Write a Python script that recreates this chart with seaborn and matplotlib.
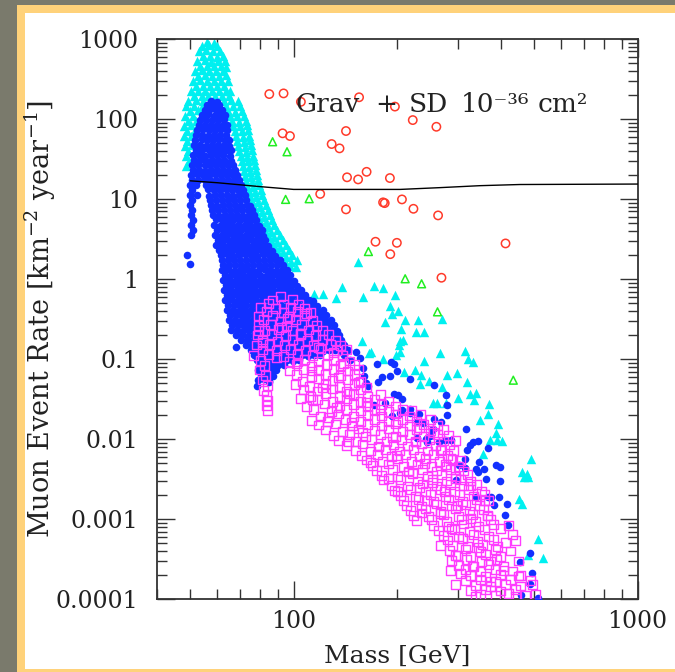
import numpy as np
import matplotlib
matplotlib.use("Agg")
import matplotlib.pyplot as plt
import seaborn as sns
from matplotlib.patches import Rectangle
from matplotlib.ticker import FixedLocator, FixedFormatter, LogLocator, NullFormatter

# ---------------------------------------------------------------- axis text
x_ticks = [100, 1000]
x_tick_labels = ["100", "1000"]
y_ticks = [1e-4, 1e-3, 1e-2, 1e-1, 1, 10, 100, 1000]
y_tick_labels = ["0.0001", "0.001", "0.01", "0.1", "1", "10", "100", "1000"]
x_label = "Mass [GeV]"
y_label = r"Muon Event Rate [km$^{-2}$ year$^{-1}$]"
# annotation words and the mass at which each word starts
note_words = ["Grav", "+", "SD", "10⁻³⁶", "cm²"]
note_word_mass = [101.0, 172.7, 215.5, 305.2, 511.0]
note_rate = 122

# ---------------------------------------------------------- detector limit
limit_mass = [50.1, 60.0, 80.0, 100.0, 204.0, 267.0, 348.0, 455.0, 1000.0]
limit_rate = [16.9, 16.0, 14.3, 13.2, 13.2, 13.9, 14.7, 15.2, 15.4]

# ------------------------------------------- model scans: (mass GeV, rate)
cyan_points = [
    (56.1,920),(58.8,900),(54.0,820),(56.9,830),(60.0,810),
    (53.2,710),(55.8,720),(58.5,700),(61.2,710),(54.7,610),(57.3,620),(60.0,600),(62.4,610),
    (52.5,530),(55.1,540),(57.7,520),(60.4,530),(63.3,525),(53.6,460),(56.1,465),(58.8,455),(61.6,460),(63.7,450),
    (51.8,400),(54.3,405),(56.9,395),(59.6,400),(62.4,395),(52.8,345),(55.4,350),(58.1,340),(60.8,345),(63.7,350),
    (51.1,300),(53.6,305),(56.1,295),(58.8,300),(61.6,298),(64.6,300),(52.1,260),(54.7,262),(57.3,258),(60.0,260),(62.9,262),
    (50.4,224),(52.8,226),(55.4,222),(58.1,225),(60.8,224),(63.7,222),(65.4,226),
    (51.5,194),(54.0,196),(56.5,192),(59.2,195),(62.0,194),(65.0,192),
    (49.4,170),(52.1,172),(54.7,168),(62.9,170),(65.9,172),(69.1,168),
    (48.7,145),(51.5,147),(54.0,143),(63.7,145),(66.8,147),(70.0,144),
    (50.1,126),(52.8,128),(64.6,126),(67.7,124),(70.9,127),(48.4,109),(51.1,110),(65.4,109),(68.6,108),(71.9,110),
    (49.4,94),(52.1,95),(66.3,94),(69.5,93),(72.9,95),(48.1,82),(50.4,83),(66.8,82),(70.0,81),(73.4,83),
    (49.1,71),(51.8,72),(67.7,71),(70.9,70),(73.9,72),(48.1,61),(50.4,62),(68.1,61),(71.4,60),(74.3,62),
    (49.1,53),(68.6,53),(71.9,52),(74.8,54),(48.4,46),(50.8,47),(69.1,46),(72.4,45),(75.3,47),
    (49.4,40),(69.5,40),(72.9,39),(75.8,41),(48.7,34.5),(70.5,34.5),(73.4,34),(76.3,35),
    (49.7,30),(70.9,30),(73.9,29.5),(76.9,30.5),(48.7,26),(71.4,26),(74.3,25.5),(77.4,26.5),
    (71.9,22.5),(74.8,22),(77.9,23),(72.4,19.5),(75.3,19),(78.4,20),(72.9,16.8),(75.8,16.5),(79.0,17.2),
    (73.4,14.6),(76.3,14.3),(79.5,14.9),(74.3,12.6),(77.4,12.3),(80.5,12.9),(74.8,10.9),(77.9,10.7),(81.1,11.1),
    (75.8,9.4),(79.0,9.2),(82.2,9.6),(76.9,8.2),(80.0,8.0),(83.3,8.4),(77.9,7.1),(81.1,6.9),(84.4,7.3),
    (79.0,6.1),(82.2,6.0),(85.6,6.3),(80.0,5.3),(83.3,5.2),(86.7,5.4),(81.1,4.6),(84.4,4.5),(87.9,4.7),
    (82.7,4.0),(86.2,3.9),(89.7,4.1),(84.4,3.45),(87.9,3.35),(91.5,3.55),(86.2,3.0),(89.7,2.9),(93.3,3.1),
    (87.9,2.6),(91.5,2.5),(95.2,2.7),(89.7,2.24),(93.3,2.18),(97.1,2.3),(91.5,1.94),(95.2,1.9),(99.1,2.0),
    (94.6,1.68),(98.5,1.64),(102.5,1.72),(97.8,1.46),(101.8,1.42),
    (114.8,0.65),(121.7,0.65),(137.9,0.79),(133.1,0.58),(118.1,0.43),(153.4,1.62),(170.8,0.82),(181.8,0.77),
    (159.0,0.60),(196.6,0.64),(190.1,0.46),(192.7,0.365),(201.5,0.40),(184.5,0.29),(211.2,0.31),(229.3,0.31),
    (205.6,0.237),(226.9,0.218),(239.8,0.216),(270.6,0.32),(157.6,0.17),(203.3,0.167),(207.9,0.173),(201.9,0.151),
    (203.3,0.123),(167.9,0.123),(165.6,0.118),(198.8,0.113),(265.7,0.12),(314.1,0.126),(320.5,0.1),(333.0,0.0925),
    (239.8,0.096),(181.8,0.1),(208.7,0.069),(224.8,0.074),(235.1,0.064),(299.2,0.067),(279.7,0.0625),(247.9,0.054),
    (233.5,0.049),(269.3,0.045),(319.9,0.052),(326.4,0.037),(338.2,0.038),(299.8,0.033),(335.2,0.031),(253.6,0.028),
    (261.1,0.028),(277.3,0.028),(370.7,0.0275),(366.5,0.0204),(349.0,0.0173),(393.7,0.0153),(388.5,0.012),
    (373.2,0.0099),(403.5,0.0094),(390.3,0.0099),(354.4,0.0066),(490.2,0.0056),(461.5,0.0039),(477.2,0.0037),
    (466.3,0.0034),(480.3,0.0034),(450.9,0.00178),(462.5,0.00157),(513.6,0.00056),(481.4,0.00036),(529.8,0.00033),
]

blue_points = [
    (57.7,170),(60.0,165),(56.1,150),(58.5,152),(60.8,148),(55.1,130),(57.3,132),(59.6,128),(62.0,130),
    (54.3,112),(56.5,114),(58.8,110),(61.2,112),(63.3,113),(53.6,97),(55.8,98),(58.1,96),(60.4,97),(62.9,99),
    (53.2,84),(55.4,85),(57.7,83),(60.0,84),(62.4,85),(64.2,84),(52.5,73),(54.7,74),(56.9,72),(59.2,73),(61.6,74),(64.2,72),
    (52.1,63),(54.3,64),(56.5,62),(58.8,63),(61.2,64),(63.7,63),
    (51.8,55),(54.0,56),(56.1,54),(58.5,55),(60.8,56),(63.3,55),(65.0,54),
    (51.5,47),(53.6,48),(55.8,46.5),(58.1,47),(60.4,48),(62.9,47),(65.0,46.5),
    (52.1,41),(54.3,41.5),(56.9,40.5),(59.2,41),(61.6,41.5),(64.2,41),(65.9,40.5),
    (51.1,35.5),(53.2,36),(55.4,35),(57.7,35.5),(60.0,36),(62.4,35.5),(65.4,35),
    (51.5,30.7),(53.6,31),(55.8,30.3),(58.1,30.7),(60.4,31),(62.9,30.7),(65.9,30.3),
    (50.8,26.6),(52.8,27),(55.1,26.3),(57.3,26.6),(59.6,27),(62.0,26.6),(64.6,26.3),(66.8,26.8),
    (51.1,23),(53.2,23.3),(55.4,22.7),(57.7,23),(60.0,23.3),(62.4,23),(65.0,22.7),(67.7,23.2),
    (50.4,20),(52.5,20.3),(54.7,19.7),(56.9,20),(59.2,20.3),(61.6,20),(64.2,19.7),(66.8,20.2),(68.6,19.8),
    (50.8,17.3),(52.8,17.5),(55.1,17.1),(57.3,17.3),(59.6,17.5),(62.0,17.3),(64.6,17.1),(67.2,17.4),(69.5,17.2),
    (50.1,15),(52.1,15.2),(55.8,14.8),(58.1,15),(60.4,15.2),(62.9,15),(65.4,14.8),(68.1,15.1),(70.5,14.9),
    (50.8,13),(56.5,13.2),(58.8,12.8),(61.2,13),(63.7,13.2),(66.3,13),(69.1,12.8),(71.4,13.1),
    (50.1,11.2),(52.5,11.4),(56.9,11),(59.2,11.2),(61.6,11.4),(64.2,11.2),(66.8,11),(69.5,11.3),(72.4,11.1),
    (50.8,9.7),(57.3,9.8),(59.6,9.6),(62.0,9.7),(64.6,9.8),(67.2,9.7),(70.0,9.6),(72.9,9.8),
    (50.1,8.4),(57.7,8.5),(60.0,8.3),(62.4,8.4),(65.0,8.5),(67.7,8.4),(70.5,8.3),(73.4,8.5),(74.8,8.3),
    (50.8,7.3),(58.1,7.4),(60.4,7.2),(62.9,7.3),(65.4,7.4),(68.1,7.3),(70.9,7.2),(73.9,7.4),(75.8,7.2),
    (50.4,6.3),(58.5,6.4),(60.8,6.2),(63.3,6.3),(65.9,6.4),(68.6,6.3),(71.4,6.2),(74.3,6.4),(76.9,6.3),
    (51.1,5.5),(59.6,5.6),(62.0,5.4),(64.6,5.5),(67.2,5.6),(70.0,5.5),(72.9,5.4),(75.8,5.6),(77.9,5.5),
    (50.4,4.7),(58.8,4.8),(61.2,4.65),(63.7,4.7),(66.3,4.8),(69.1,4.7),(71.9,4.65),(74.8,4.75),(77.9,4.7),(79.5,4.65),
    (51.1,4.1),(60.0,4.15),(62.4,4.05),(65.0,4.1),(67.7,4.15),(70.5,4.1),(73.4,4.05),(76.3,4.15),(79.5,4.1),(81.1,4.05),
    (50.4,3.55),(59.2,3.6),(61.6,3.5),(64.2,3.55),(66.8,3.6),(69.5,3.55),(72.4,3.5),(75.3,3.6),(78.4,3.55),(81.6,3.5),
    (60.4,3.07),(62.9,3.1),(65.4,3.03),(68.1,3.07),(70.9,3.1),(73.9,3.07),(76.9,3.03),(80.0,3.1),(82.7,3.05),
    (59.6,2.66),(62.0,2.7),(64.6,2.62),(67.2,2.66),(70.0,2.7),(72.9,2.66),(75.8,2.62),(79.0,2.7),(82.2,2.66),(84.4,2.62),
    (60.8,2.3),(63.3,2.33),(65.9,2.27),(68.6,2.3),(71.4,2.33),(74.3,2.3),(77.4,2.27),(80.5,2.33),(83.8,2.3),(86.7,2.27),
    (49.1,2.0),(61.6,2.0),(64.2,2.03),(66.8,1.97),(69.5,2.0),(72.4,2.03),(75.3,2.0),(78.4,1.97),(81.6,2.03),(85.0,2.0),(88.5,1.97),
    (62.0,1.73),(64.6,1.75),(67.2,1.71),(70.0,1.73),(72.9,1.75),(75.8,1.73),(79.0,1.71),(82.2,1.75),(85.6,1.73),(89.1,1.71),(91.5,1.74),
    (50.1,1.55),
    (62.4,1.5),(65.0,1.52),(67.7,1.48),(70.5,1.5),(73.4,1.52),(76.3,1.5),(79.5,1.48),(82.7,1.52),(86.2,1.5),(89.7,1.48),(93.3,1.51),
    (62.0,1.3),(64.6,1.32),(67.2,1.28),(70.0,1.3),(72.9,1.32),(75.8,1.3),(79.0,1.28),(82.2,1.32),(85.6,1.3),(89.1,1.28),(92.7,1.31),(95.9,1.29),
    (63.3,1.12),(65.9,1.14),(68.6,1.1),(71.4,1.12),(74.3,1.14),(77.4,1.12),(80.5,1.1),(83.8,1.14),(87.3,1.12),(90.9,1.1),(94.6,1.13),(97.8,1.11),
    (62.4,0.97),(65.0,0.98),(67.7,0.96),(70.5,0.97),(73.4,0.98),(76.3,0.97),(79.5,0.96),(82.7,0.98),(86.2,0.97),(89.7,0.96),(93.3,0.98),(97.1,0.97),(100.5,0.96),
    (63.7,0.84),(66.3,0.85),(69.1,0.83),(71.9,0.84),(74.8,0.85),(77.9,0.84),(81.1,0.83),(84.4,0.85),(87.9,0.84),(91.5,0.83),(95.2,0.85),(99.1,0.84),(102.5,0.83),
    (62.9,0.73),(65.4,0.74),(68.1,0.72),(70.9,0.73),(73.9,0.74),(76.9,0.73),(80.0,0.72),(83.3,0.74),(86.7,0.73),(90.3,0.72),(94.0,0.74),(97.8,0.73),(101.8,0.72),(105.3,0.74),
    (64.2,0.63),(66.8,0.64),(69.5,0.62),(72.4,0.63),(75.3,0.64),(78.4,0.63),(81.6,0.62),(85.0,0.64),(88.5,0.63),(92.1,0.62),(95.9,0.64),(99.8,0.63),(103.9,0.62),(108.1,0.64),
    (63.3,0.55),(65.9,0.56),(68.6,0.54),(71.4,0.55),(74.3,0.56),(77.4,0.55),(80.5,0.54),(83.8,0.56),(87.3,0.55),(90.9,0.54),(94.6,0.56),(98.5,0.55),(102.5,0.54),(106.7,0.56),(111.1,0.55),(114.1,0.54),
    (64.6,0.47),(67.2,0.48),(70.0,0.465),(72.9,0.47),(75.8,0.48),(79.0,0.47),(82.2,0.465),(85.6,0.48),(89.1,0.47),(92.7,0.465),(96.5,0.48),(100.5,0.47),(104.6,0.465),(108.8,0.48),(113.3,0.47),(117.1,0.465),
    (64.2,0.41),(66.8,0.415),(69.5,0.405),(72.4,0.41),(75.3,0.415),(78.4,0.41),(81.6,0.405),(85.0,0.415),(88.5,0.41),(92.1,0.405),(95.9,0.415),(99.8,0.41),(103.9,0.405),(108.1,0.415),(112.5,0.41),(117.1,0.405),(121.9,0.41),
    (65.4,0.355),(68.1,0.36),(70.9,0.35),(73.9,0.355),(76.9,0.36),(80.0,0.355),(83.3,0.35),(86.7,0.36),(90.3,0.355),(94.0,0.35),(97.8,0.36),(101.8,0.355),(106.0,0.35),(110.3,0.36),(114.8,0.355),(119.5,0.35),(124.4,0.355),
    (65.0,0.307),(67.7,0.31),(70.5,0.303),(73.4,0.307),(76.3,0.31),(79.5,0.307),(82.7,0.303),(86.2,0.31),(89.7,0.307),(93.3,0.303),(97.1,0.31),(101.1,0.307),(105.3,0.303),(109.6,0.31),(114.1,0.307),(118.7,0.303),(123.6,0.31),(128.6,0.305),
    (66.3,0.266),(69.1,0.27),(71.9,0.262),(74.8,0.266),(77.9,0.27),(81.1,0.266),(84.4,0.262),(87.9,0.27),(91.5,0.266),(95.2,0.262),(99.1,0.27),(103.2,0.266),(107.4,0.262),(111.8,0.27),(116.4,0.266),(121.1,0.262),(126.1,0.27),(131.3,0.265),
    (65.9,0.23),(68.6,0.233),(71.4,0.227),(74.3,0.23),(77.4,0.233),(80.5,0.23),(83.8,0.227),(87.3,0.233),(90.9,0.23),(94.6,0.227),(98.5,0.233),(102.5,0.23),(106.7,0.227),(111.1,0.233),(115.6,0.23),(120.3,0.227),(125.3,0.233),(130.4,0.23),(134.0,0.228),
    (68.1,0.2),(70.9,0.203),(73.9,0.197),(76.9,0.2),(80.0,0.203),(83.3,0.2),(86.7,0.197),(90.3,0.203),(94.0,0.2),(97.8,0.197),(101.8,0.203),(106.0,0.2),(110.3,0.197),(114.8,0.203),(119.5,0.2),(124.4,0.197),(129.5,0.203),(135.8,0.2),
    (70.5,0.173),(73.4,0.175),(76.3,0.171),(79.5,0.173),(82.7,0.175),(86.2,0.173),(89.7,0.171),(93.3,0.175),(97.1,0.173),(101.1,0.171),(105.3,0.175),(109.6,0.173),(114.1,0.171),(118.7,0.175),(123.6,0.173),(128.6,0.171),(133.9,0.175),(137.6,0.172),
    (68.1,0.14),(72.9,0.15),(75.8,0.152),(79.0,0.148),(82.2,0.15),(85.6,0.152),(89.1,0.15),(92.7,0.148),(96.5,0.152),(100.5,0.15),(104.6,0.148),(108.8,0.152),(113.3,0.15),(117.9,0.148),(122.7,0.152),(127.8,0.15),(133.0,0.148),(140.4,0.15),
    (75.3,0.13),(78.4,0.132),(81.6,0.128),(85.0,0.13),(88.5,0.132),(92.1,0.13),(95.9,0.128),(99.8,0.132),(103.9,0.13),(108.1,0.128),(112.5,0.132),(117.1,0.13),(121.9,0.128),(126.9,0.132),(132.2,0.13),(137.6,0.128),(144.2,0.13),
    (76.9,0.112),(80.0,0.114),(83.3,0.11),(86.7,0.112),(90.3,0.114),(94.0,0.112),(97.8,0.11),(101.8,0.114),(106.0,0.112),(110.3,0.11),(114.8,0.114),(119.5,0.112),(140.4,0.112),(152.1,0.123),
    (78.4,0.097),(81.6,0.098),(85.0,0.096),(88.5,0.097),(92.1,0.098),(95.9,0.097),(99.8,0.096),(103.9,0.098),(146.1,0.097),(156.2,0.102),
    (80.0,0.084),(83.3,0.085),(86.7,0.083),(90.3,0.084),(94.0,0.085),(79.0,0.073),(82.2,0.074),(85.6,0.072),(89.1,0.073),
    (80.5,0.063),(83.8,0.064),(87.3,0.062),(79.0,0.055),(82.2,0.056),(85.0,0.054),(78.3,0.046),(85.0,0.052),
    (159.6,0.077),(160.6,0.061),(174.7,0.087),(191.9,0.092),(195.2,0.088),(199.8,0.071),(180.6,0.06),(191.0,0.061),
    (176.2,0.052),(161.9,0.051),(164.5,0.046),(218.4,0.057),(255.2,0.047),(277.9,0.0355),(200.6,0.0355),(206.5,0.032),
    (184.7,0.028),(218.4,0.0235),(193.2,0.0194),(204.2,0.021),(230.8,0.0205),(237.7,0.016),(228.4,0.0165),(255.2,0.0177),
    (268.3,0.0165),(279.1,0.0199),(252.6,0.013),(248.4,0.0109),(263.9,0.0092),(228.4,0.0105),(244.2,0.0092),(279.1,0.0266),
    (170.8,0.0266),(195.2,0.037),(206.5,0.023),(217.4,0.0214),(254.2,0.0136),(243.0,0.0102),(276.0,0.0099),(286.7,0.0097),
    (317.7,0.0136),(332.3,0.0092),(342.7,0.0094),(326.4,0.0084),(319.2,0.0073),(366.5,0.0078),(344.9,0.0052),(315.6,0.0056),
    (301.7,0.0047),(315.6,0.0044),(339.8,0.0043),(342.7,0.0039),(356.7,0.0043),(388.5,0.0047),(397.1,0.0045),(399.0,0.003),
    (297.2,0.0031),(363.3,0.0032),(339.8,0.0019),(366.5,0.00192),(375.0,0.0019),(394.5,0.00192),(381.4,0.0015),(417.3,0.00153),
    (412.6,0.00112),(419.0,0.00084),(487.9,0.00038),(454.0,0.00029),(494.5,0.00021),(487.9,0.000157),(458.4,0.000112),(513.6,0.000105),
]

magenta_points = [
    (91.5,0.60),(86.7,0.55),(99.1,0.56),(93.3,0.49),(103.2,0.48),
    (80.0,0.44),(88.5,0.43),(97.8,0.445),(107.4,0.43),(83.3,0.39),(93.3,0.38),(102.5,0.395),(111.8,0.385),
    (79.0,0.345),(86.7,0.35),(97.1,0.34),(107.4,0.35),(81.6,0.31),(91.5,0.30),(101.1,0.315),(113.3,0.305),
    (79.0,0.266),(85.6,0.27),(95.2,0.26),(105.3,0.272),(116.4,0.262),(82.2,0.23),(90.3,0.235),(99.1,0.226),(110.3,0.232),(121.1,0.228),
    (78.4,0.2),(86.2,0.205),(94.6,0.196),(104.6,0.204),(115.6,0.197),(126.1,0.202),
    (81.1,0.173),(89.7,0.169),(99.1,0.177),(109.6,0.171),(121.1,0.176),(132.2,0.17),
    (77.9,0.15),(85.0,0.154),(94.0,0.147),(103.2,0.153),(114.1,0.148),(127.8,0.152),(136.7,0.147),
    (81.1,0.13),(89.1,0.127),(97.8,0.133),(108.1,0.129),(119.5,0.134),(133.0,0.128),(142.2,0.132),
    (76.3,0.112),(84.4,0.115),(93.3,0.109),(102.5,0.114),(113.3,0.11),(125.3,0.115),(138.5,0.11),
    (80.0,0.097),(97.1,0.094),(107.4,0.099),(117.9,0.095),(130.4,0.1),(145.1,0.095),
    (82.2,0.084),(101.8,0.087),(112.5,0.082),(124.4,0.086),(136.7,0.083),(150.1,0.086),
    (79.5,0.073),(97.1,0.071),(106.7,0.075),(117.9,0.072),(130.4,0.074),(143.2,0.071),(154.1,0.075),
    (82.7,0.063),(101.8,0.065),(112.5,0.061),(123.6,0.064),(136.7,0.062),(150.1,0.065),
    (81.1,0.055),(106.0,0.053),(117.9,0.057),(129.5,0.054),(143.2,0.056),(156.2,0.053),
    (83.8,0.047),(101.1,0.048),(111.1,0.046),(123.6,0.049),(135.8,0.046),(150.1,0.048),(162.7,0.045),
    (81.6,0.041),(106.7,0.042),(117.1,0.04),(129.5,0.0425),(142.2,0.0395),(156.2,0.042),
    (83.3,0.0355),(111.8,0.034),(123.6,0.037),(135.8,0.0345),(149.1,0.0365),(163.8,0.0345),(178.6,0.036),
    (83.8,0.0307),(117.1,0.0315),(129.5,0.0298),(142.2,0.0318),(156.2,0.0297),(171.6,0.0315),(188.4,0.03),
    (83.3,0.0266),(108.8,0.0258),(122.7,0.0275),(135.8,0.026),(149.1,0.0272),(163.8,0.0258),(179.8,0.0274),(197.5,0.026),
    (83.8,0.023),(114.1,0.0236),(128.6,0.0224),(142.2,0.0237),(156.2,0.0225),(171.6,0.0236),(188.4,0.0224),(207.0,0.0235),(221.0,0.0226),
    (119.5,0.0195),(134.8,0.0206),(149.1,0.0194),(163.8,0.0205),(179.8,0.0195),(197.5,0.0206),(217.0,0.0195),(233.5,0.0205),
    (112.5,0.0173),(125.3,0.0168),(141.3,0.0178),(156.2,0.0168),(171.6,0.0177),(188.4,0.0168),(207.0,0.0178),(227.3,0.0169),(249.7,0.0176),
    (117.9,0.015),(132.2,0.0155),(148.1,0.0146),(163.8,0.0154),(179.8,0.0146),(197.5,0.0155),(217.0,0.0146),(238.2,0.0154),(261.6,0.0147),
    (123.6,0.013),(138.5,0.0126),(154.1,0.0134),(171.6,0.0127),(188.4,0.0134),(207.0,0.0126),(227.3,0.0133),(249.7,0.0127),(272.4,0.0133),
    (130.4,0.0112),(145.1,0.0115),(161.6,0.0109),(178.6,0.0115),(197.5,0.0109),(217.0,0.0115),(238.2,0.0109),(261.6,0.0114),(281.6,0.011),
    (134.8,0.0097),(151.1,0.0094),(168.2,0.0099),(186.0,0.0094),(205.6,0.01),(225.8,0.0094),(247.9,0.0099),(272.4,0.0095),
    (142.2,0.0084),(158.3,0.0087),(176.2,0.0082),(194.9,0.0086),(214.1,0.0082),(235.1,0.0087),(258.2,0.0082),(283.5,0.0086),
    (151.1,0.0073),(167.1,0.0071),(184.7,0.0075),(202.9,0.0071),(222.8,0.0075),(244.6,0.0071),(268.8,0.0075),(291.3,0.0072),
    (157.2,0.0063),(175.0,0.0065),(192.3,0.0061),(211.2,0.0065),(231.9,0.0061),(254.9,0.0065),(279.7,0.0062),
    (162.7,0.0055),(181.0,0.0053),(200.2,0.0057),(219.9,0.0053),(241.4,0.0057),(265.2,0.0053),(289.2,0.0056),(305.2,0.0054),
    (169.3,0.0047),(188.4,0.0049),(208.4,0.0046),(228.8,0.0049),(251.4,0.0046),(276.0,0.0048),(301.2,0.0046),
    (173.9,0.0041),(193.6,0.0042),(215.5,0.004),(236.6,0.0042),(260.0,0.004),(285.4,0.0042),(311.4,0.004),
    (179.8,0.00355),(200.2,0.0034),(221.4,0.0037),(244.6,0.00345),(268.8,0.0036),(295.2,0.00345),(319.9,0.0036),
    (182.2,0.0031),(204.2,0.00315),(228.8,0.003),(253.1,0.00315),(277.9,0.003),(305.2,0.00315),(326.4,0.003),
    (192.3,0.00266),(214.1,0.0026),(236.6,0.00275),(260.0,0.0026),(285.4,0.00274),(311.4,0.0026),(339.8,0.0027),
    (196.2,0.0023),(218.4,0.00236),(241.4,0.00224),(267.0,0.00236),(293.2,0.00224),(322.1,0.00235),(351.3,0.00226),
    (204.2,0.002),(225.8,0.00194),(249.7,0.00206),(276.0,0.00194),(303.2,0.00206),(333.0,0.00195),(358.5,0.00205),
    (208.4,0.00173),(230.8,0.00178),(254.9,0.00168),(281.6,0.00178),(309.3,0.00168),(339.8,0.00177),(368.2,0.0017),
    (212.6,0.0015),(235.1,0.00146),(260.0,0.00155),(287.3,0.00146),(315.6,0.00154),(346.7,0.00147),
    (218.4,0.0013),(241.4,0.00134),(267.0,0.00126),(295.2,0.00134),(324.2,0.00127),(356.2,0.00133),
    (222.8,0.00112),(246.2,0.00109),(272.4,0.00115),(301.2,0.00109),(330.8,0.00115),(365.8,0.0011),
    (227.3,0.00097),(251.4,0.001),(277.9,0.00094),(307.2,0.001),(337.5,0.00094),(373.2,0.00099),
    (254.9,0.00084),(281.6,0.00081),(311.4,0.00087),(344.4,0.00081),(380.8,0.00086),(421.1,0.00083),
    (263.5,0.00073),(293.2,0.00075),(324.2,0.00071),(358.5,0.00075),
    (272.4,0.00063),(301.2,0.00061),(333.0,0.00065),(368.2,0.00061),(432.5,0.00064),
    (279.7,0.00055),(309.3,0.00057),(342.0,0.00053),(380.8,0.00056),(441.2,0.00054),
    (289.2,0.00047),(319.9,0.000455),(353.7,0.000485),(391.1,0.000455),
    (283.5,0.00041),(315.6,0.000425),(349.0,0.000398),(385.9,0.000422),(426.7,0.0004),
    (295.2,0.000355),(326.4,0.000345),(360.9,0.000365),(399.0,0.000345),
    (287.3,0.000307),(317.7,0.000315),(351.3,0.000298),(388.5,0.000316),(450.2,0.0003),
    (301.2,0.000266),(333.0,0.000258),(368.2,0.000274),(407.1,0.000258),
    (285.4,0.00023),(315.6,0.000236),(349.0,0.000224),(385.9,0.000236),(432.5,0.000226),
    (326.4,0.0002),(360.9,0.000194),(399.0,0.000206),(450.2,0.000196),
    (315.6,0.000173),(349.0,0.000178),(385.9,0.000168),(426.7,0.000177),(487.9,0.00017),
    (337.5,0.00015),(373.2,0.000146),(412.6,0.000154),(456.3,0.000147),(494.5,0.000153),
    (326.4,0.00013),(360.9,0.000134),(399.0,0.000127),(441.2,0.000133),
    (349.0,0.000115),(385.9,0.000112),(421.1,0.000117),(471.8,0.000112),(504.5,0.000116),
    (84.4,0.50),(95.9,0.325),(104.6,0.21),(81.1,0.163),(117.9,0.141),(89.1,0.106),(130.4,0.122),(102.5,0.092),
    (112.5,0.071),(134.8,0.059),(121.1,0.0435),(145.1,0.0375),(104.6,0.0325),(133.0,0.025),(162.7,0.029),(178.6,0.0237),
    (126.1,0.0188),(147.1,0.0163),(200.2,0.0168),(231.9,0.0141),(158.3,0.0122),(193.6,0.0106),(254.9,0.0122),(144.2,0.0094),
    (176.2,0.008),(225.8,0.0092),(267.0,0.0072),(198.8,0.0063),(167.1,0.0051),(239.8,0.005),(277.9,0.0046),(215.5,0.0039),
    (188.4,0.0032),(253.1,0.0029),(295.2,0.0032),(231.9,0.0025),(200.2,0.0022),(274.2,0.0022),(326.4,0.0026),(243.0,0.0017),
    (299.2,0.0015),(358.5,0.0017),(267.0,0.00118),(326.4,0.00103),(235.1,0.0012),(287.3,0.00077),(365.8,0.00112),(399.0,0.00077),
    (309.3,0.00058),(267.0,0.00047),(344.4,0.00044),(412.6,0.00051),(299.2,0.00035),(373.2,0.0003),(330.8,0.00026),(305.2,0.00021),
    (407.1,0.00023),(373.2,0.000165),(456.3,0.0002),(337.5,0.000109),(441.2,0.000109),(295.2,0.000153),(92.1,0.25),(108.8,0.375),
    (79.0,0.23),(139.7,0.089),(154.1,0.051),(113.3,0.031),(295.2,0.0097),(285.4,0.0057),
]

red_mass = [85.0, 93.5, 105, 155, 197, 222, 260, 92.9, 97.6, 142, 129, 136, 143, 154,
            163, 190.5, 119.5, 142, 182, 184, 206.5, 223, 263, 173, 199.6, 191, 413, 269]
red_rate = [205, 209, 164, 187, 143, 97, 80, 66.3, 61.3, 70.8, 48.7, 43, 18.7, 17.6,
            21.9, 18.3, 11.6, 7.43, 9.1, 8.9, 9.9, 7.56, 6.25, 2.93, 2.84, 2.05, 2.79, 1.04]

green_mass = [86.9, 95.7, 94.8, 111, 165, 211, 235.5, 262, 435]
green_rate = [52, 39, 9.9, 10.1, 2.21, 1.01, 0.874, 0.39, 0.0546]

cyan_mass, cyan_rate = map(list, zip(*cyan_points))
blue_mass, blue_rate = map(list, zip(*blue_points))
magenta_mass, magenta_rate = map(list, zip(*magenta_points))

# ---------------------------------------------------------------- styling
CYAN = "#00f0f0"
BLUE = "#1230ff"
MAGENTA = "#ff3cff"
RED = "#ff3a2a"
GREEN = "#22ee22"
INK = "#222222"
SERIF = ["DejaVu Serif", "DejaVu Sans"]

sns.set_style("ticks")
plt.rcParams["font.family"] = SERIF
plt.rcParams["mathtext.fontset"] = "dejavuserif"

fig = plt.figure(figsize=(6.75, 6.72), dpi=100, facecolor="#7a7a6c")
fig.add_artist(Rectangle((17 / 675, 0), 1 - 17 / 675, 667 / 672, transform=fig.transFigure,
                         facecolor="#ffd27a", edgecolor="none", zorder=-2))
fig.add_artist(Rectangle((25 / 675, 3 / 672), 1 - 25 / 675, 656 / 672, transform=fig.transFigure,
                         facecolor="white", edgecolor="none", zorder=-1))

ax = fig.add_axes([0.2321, 0.1082, 0.7126, 0.8338])
ax.set_facecolor("white")
ax.set_xscale("log")
ax.set_yscale("log")
ax.set_xlim(40, 1000)
ax.set_ylim(1e-4, 1000)

sns.scatterplot(x=cyan_mass, y=cyan_rate, marker="^", s=46, color=CYAN,
                linewidth=0, ax=ax, zorder=2)
sns.scatterplot(x=blue_mass, y=blue_rate, marker="o", s=30, color=BLUE,
                linewidth=0, ax=ax, zorder=3)
sns.scatterplot(x=magenta_mass, y=magenta_rate, marker="s", s=40, color=MAGENTA,
                facecolor="none", edgecolor=MAGENTA, linewidth=1.0, ax=ax, zorder=4)
sns.scatterplot(x=red_mass, y=red_rate, marker="o", s=36, color=RED,
                facecolor="none", edgecolor=RED, linewidth=1.1, ax=ax, zorder=5)
sns.scatterplot(x=green_mass, y=green_rate, marker="^", s=32, color=GREEN,
                facecolor="none", edgecolor=GREEN, linewidth=1.1, ax=ax, zorder=5)
sns.lineplot(x=limit_mass, y=limit_rate, color="black", linewidth=1.0,
             sort=False, estimator=None, ax=ax, zorder=6)

for word, m in zip(note_words, note_word_mass):
    ax.text(m, note_rate, word, ha="left", va="baseline", fontsize=19,
            color=INK, family=SERIF, zorder=7)

# ticks: decades labelled, 2..9 unlabelled, all four sides, pointing inward
ax.xaxis.set_major_locator(FixedLocator(x_ticks))
ax.xaxis.set_major_formatter(FixedFormatter(x_tick_labels))
ax.xaxis.set_minor_locator(LogLocator(base=10, subs=np.arange(2, 10), numticks=20))
ax.xaxis.set_minor_formatter(NullFormatter())
ax.yaxis.set_major_locator(FixedLocator(y_ticks))
ax.yaxis.set_major_formatter(FixedFormatter(y_tick_labels))
ax.yaxis.set_minor_locator(LogLocator(base=10, subs=np.arange(2, 10), numticks=20))
ax.yaxis.set_minor_formatter(NullFormatter())

ax.tick_params(which="major", direction="in", length=13, width=1.0, color="#333333",
               top=True, right=True, labelsize=17, labelcolor=INK)
ax.tick_params(which="minor", direction="in", length=7, width=1.0, color="#333333",
               top=True, right=True)
ax.tick_params(axis="y", which="major", pad=13)
ax.tick_params(axis="x", which="major", pad=8)
for spine in ax.spines.values():
    spine.set_linewidth(1.3)
    spine.set_color("#333333")
ax.grid(False)

ax.set_xlabel(x_label, fontsize=18, color=INK, family=SERIF)
ax.set_ylabel(y_label, fontsize=19.5, color=INK, family=SERIF)
ax.xaxis.set_label_coords(0.5, -0.081)
ax.yaxis.set_label_coords(-0.205, 0.5)

fig.savefig("out.png", dpi=100, facecolor=fig.get_facecolor())
